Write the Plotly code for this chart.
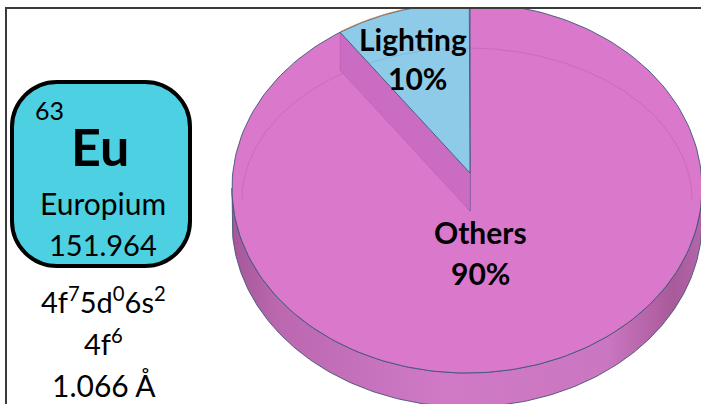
import numpy as np
import plotly.graph_objects as go

# ---- data ----
labels = ["Lighting", "Others"]
shares = [10, 90]
slice_colors = ["#8ecbe9", "#da78cb"]

element_number = "63"
element_symbol = "Eu"
element_name = "Europium"
element_mass = "151.964"
element_config = "4f<sup>7</sup>5d<sup>0</sup>6s<sup>2</sup>"
element_ion = "4f<sup>6</sup>"
element_radius = "1.066 Å"

# ---- pie geometry (pixel-like data units, y grows downward) ----
CX, CY, RX, RY = 467.0, 188.0, 235.0, 185.0   # rim ellipse of the top face
APEX = (470.0, 211.0)                          # projected pie centre
LIFT = 38.0                                    # explode offset of first slice
DEPTH = 34.0                                   # thickness of the disc
START = 90.0                                   # first slice starts at 12 o'clock


def ray_hit(origin, theta_deg):
    """Point where a ray from origin at pie angle theta meets the rim ellipse."""
    t = np.radians(theta_deg)
    dx, dy = np.cos(t) * RX, -np.sin(t) * RY
    px, py = origin[0] - CX, origin[1] - CY
    a = (dx / RX) ** 2 + (dy / RY) ** 2
    b = 2 * (px * dx / RX ** 2 + py * dy / RY ** 2)
    c = (px / RX) ** 2 + (py / RY) ** 2 - 1
    s = (-b + np.sqrt(b * b - 4 * a * c)) / (2 * a)
    return (origin[0] + s * dx, origin[1] + s * dy)


def rim_param(p):
    return np.degrees(np.arctan2(-(p[1] - CY) / RY, (p[0] - CX) / RX))


def rim_arc(phi0, phi1, n=200, cx=CX, cy=CY, rx=RX, ry=RY, dy=0.0):
    ph = np.radians(np.linspace(phi0, phi1, n))
    return list(cx + rx * np.cos(ph)), list(cy - ry * np.sin(ph) + dy)


# slice angles from the shares
total = float(sum(shares))
bounds = [START]
for v in shares:
    bounds.append(bounds[-1] + 360.0 * v / total)

lift_apex = (APEX[0], APEX[1] - LIFT)
p_start = ray_hit(lift_apex, bounds[0])
p_end = ray_hit(lift_apex, bounds[1])
phi_s = rim_param(p_start)
phi_e = rim_param(p_end)
if phi_e < phi_s:
    phi_e += 360

fig = go.Figure()

# side wall of the disc (front half)
tx, ty = rim_arc(360, 180)
bx, by = rim_arc(180, 360, dy=DEPTH)
fig.add_trace(go.Scatter(
    x=tx + bx + [tx[0]], y=ty + by + [ty[0]], mode="lines", fill="toself",
    line=dict(color="rgba(60,80,110,0.85)", width=1),
    fillgradient=dict(type="horizontal", colorscale=[
        [0.0, "#a65799"], [0.1, "#bb68b0"], [0.45, "#d07ac6"],
        [0.8, "#cb76c0"], [0.94, "#a85a9a"], [1.0, "#b466aa"]]),
    hoverinfo="skip", showlegend=False))

# second slice (Others) top face
ox, oy = rim_arc(phi_e, phi_s + 360)
fig.add_trace(go.Scatter(
    x=[APEX[0]] + ox + [APEX[0]], y=[APEX[1]] + oy + [APEX[1]],
    mode="lines", fill="toself", fillcolor=slice_colors[1],
    line=dict(color="rgba(60,85,120,0.9)", width=1),
    hoverinfo="skip", showlegend=False))

# bevel highlight on the top face
bvx, bvy = rim_arc(0, 180, cx=467, cy=200, rx=225, ry=152)
fig.add_trace(go.Scatter(x=bvx, y=bvy, mode="lines",
                         line=dict(color="rgba(150,60,140,0.22)", width=1),
                         hoverinfo="skip", showlegend=False))

# radial wall revealed under the exploded slice
fig.add_trace(go.Scatter(
    x=[lift_apex[0], p_end[0], p_end[0], APEX[0], lift_apex[0]],
    y=[lift_apex[1], p_end[1], p_end[1] + LIFT, APEX[1], lift_apex[1]],
    mode="lines", fill="toself", fillcolor="#c96cc2",
    line=dict(color="rgba(170,80,160,0.4)", width=0.8),
    hoverinfo="skip", showlegend=False))

# first slice (Lighting) top face, exploded
lx, ly = rim_arc(phi_s, phi_e)
fig.add_trace(go.Scatter(
    x=[lift_apex[0]] + lx + [lift_apex[0]], y=[lift_apex[1]] + ly + [lift_apex[1]],
    mode="lines", fill="toself", fillcolor=slice_colors[0],
    line=dict(color="rgba(60,85,120,0.9)", width=1),
    hoverinfo="skip", showlegend=False))
fig.add_trace(go.Scatter(x=lx, y=[v - 0.5 for v in ly], mode="lines",
                         line=dict(color="rgba(225,130,70,0.8)", width=1),
                         hoverinfo="skip", showlegend=False))

# faint bevel inside the exploded slice
sel = [(x, y) for x, y in zip(bvx, bvy)
       if START <= np.degrees(np.arctan2(-(y - lift_apex[1]) / RY, (x - lift_apex[0]) / RX)) % 360 <= bounds[1]
       and y < lift_apex[1]]
if sel:
    fig.add_trace(go.Scatter(x=[p[0] for p in sel], y=[p[1] for p in sel], mode="lines",
                             line=dict(color="rgba(80,130,170,0.25)", width=1),
                             hoverinfo="skip", showlegend=False))

# slice labels
FONT = "Lato"
label_pos = {"Lighting": [(413, 39), (417, 78)], "Others": [(480, 232), (480, 273)]}
for lab, val in zip(labels, shares):
    (x1, y1), (x2, y2) = label_pos[lab]
    fig.add_annotation(x=x1, y=y1, text=f"<b>{lab}</b>", showarrow=False,
                       font=dict(family=FONT, size=30, color="black"))
    fig.add_annotation(x=x2, y=y2, text=f"<b>{val}%</b>", showarrow=False,
                       font=dict(family=FONT, size=30, color="black"))


# element tile
def rounded_rect(x0, y0, x1, y1, r):
    k = 0.5523 * r
    return (f"M {x0 + r},{y0} L {x1 - r},{y0} "
            f"C {x1 - r + k},{y0} {x1},{y0 + r - k} {x1},{y0 + r} "
            f"L {x1},{y1 - r} C {x1},{y1 - r + k} {x1 - r + k},{y1} {x1 - r},{y1} "
            f"L {x0 + r},{y1} C {x0 + r - k},{y1} {x0},{y1 - r + k} {x0},{y1 - r} "
            f"L {x0},{y0 + r} C {x0},{y0 + r - k} {x0 + r - k},{y0} {x0 + r},{y0} Z")


fig.add_shape(type="path", path=rounded_rect(12, 82, 190, 266, 45),
              fillcolor="#4dd0e1", line=dict(color="black", width=4), layer="above")

tile_text = [
    (element_number, 49, 110, 25, False),
    (element_symbol, 100, 146, 52, True),
    (element_name, 103, 203, 30, False),
    (element_mass, 103, 244, 29, False),
    (element_config, 103, 300, 29, False),
    (element_ion, 103, 342, 29, False),
    (element_radius, 104, 385, 30, False),
]
for txt, x, y, size, bold in tile_text:
    fig.add_annotation(x=x, y=y, text=f"<b>{txt}</b>" if bold else txt, showarrow=False,
                       font=dict(family=FONT, size=size, color="black"))

fig.update_xaxes(range=[7, 701], visible=True, showgrid=False, zeroline=False,
                 showticklabels=False, ticks="", showline=True, side="top",
                 linecolor="#3a3a3a", linewidth=1.5, fixedrange=True)
fig.update_yaxes(range=[404, 9], visible=True, showgrid=False, zeroline=False,
                 showticklabels=False, ticks="", showline=True,
                 linecolor="#3a3a3a", linewidth=1.5, fixedrange=True)
fig.update_layout(width=701, height=404, margin=dict(l=7, r=0, t=9, b=0),
                  paper_bgcolor="white", plot_bgcolor="white", showlegend=False)

fig.write_html("out.html")
